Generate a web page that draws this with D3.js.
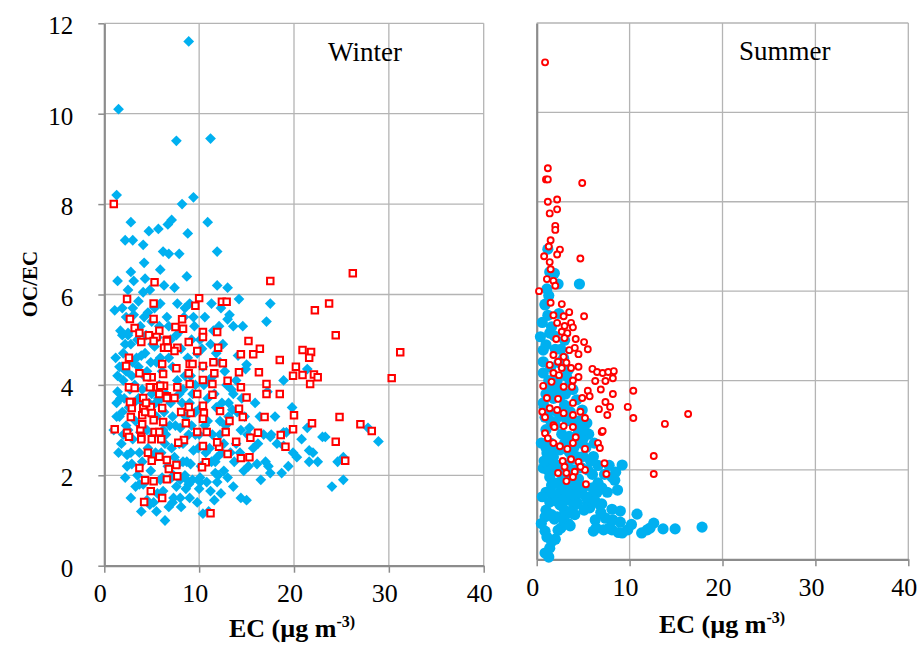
<!DOCTYPE html>
<html>
<head>
<meta charset="utf-8">
<script src="https://cdn.jsdelivr.net/npm/d3@7/dist/d3.min.js"></script>
<style>
  body { margin: 0; background: #fff; }
  text { font-family: "Liberation Serif", "Times New Roman", serif; }
</style>
</head>
<body>
<svg id="chart" width="918" height="645"></svg>
<script>
// [EC, OC/EC] pairs
const winterBlue = [
  [8.9,11.6],[1.5,10.1],[7.6,9.4],[11.2,9.45],[1.3,8.2],[9.4,8.15],[8.2,8.0],
  [2.8,7.6],[2.2,7.2],[3.0,7.2],[4.1,7.1],[4.7,7.4],[5.7,7.45],[6.7,7.55],[7.1,7.65],[8.8,7.35],[10.9,7.6],
  [6.2,6.95],[6.8,6.9],[7.9,6.9],[11.9,6.95],[4.2,6.7],[2.8,6.5],[3.1,6.3],[4.3,6.35],[5.9,6.55],[6.3,6.2],[7.4,6.15],
  [8.7,6.4],[2.5,6.1],[4.1,6.05],[4.8,6.1],[11.9,6.2],[13.0,6.15],[1.4,6.3],
  [14.2,5.9],[17.5,5.8],[11.3,5.8],[1.1,5.65],[1.9,5.7],[3.6,5.85],[3.0,5.7],[5.9,5.8],[7.7,5.8],[8.5,5.7],[6.6,5.5],
  [9.4,5.5],[13.2,5.55],[13.6,5.3],[14.6,5.3],[17.1,5.4],[11.5,5.2],[2.5,5.15],
  [2.0,4.7],[3.9,4.65],[5.3,4.85],[14.1,4.65],[15.0,4.45],[18.9,4.1],[21.4,4.35],[17.2,3.85],[13.1,3.6],[13.6,3.8],
  [1.7,3.7],[1.3,3.3],[2.5,3.0],[12.2,3.2],[15.3,3.05],[17.6,2.9],[18.9,2.95],[21.4,3.05],[23.0,2.85],[13.5,3.45],
  [2.4,2.45],[2.9,2.25],[2.2,1.95],[3.7,1.8],[5.2,1.4],[6.4,1.0],[7.2,1.4],[8.0,1.5],[6.2,1.65],[7.6,1.75],[9.8,1.4],
  [10.4,1.15],[8.9,1.8],[10.1,1.85],[11.2,1.65],[11.9,1.85],[13.6,1.75],[15.0,1.45],[13.0,1.95],[11.7,2.05],[10.1,1.95],
  [8.7,1.9],[9.1,2.25],[8.3,2.3],[11.7,2.3],[12.4,2.5],[14.3,2.5],[15.2,2.2],[17.3,2.2],[17.5,2.05],[18.7,2.05],
  [19.4,2.2],[20.3,2.4],[21.6,2.55],[21.6,2.3],[23.3,2.85],[18.9,2.65],[17.5,2.85],[1.5,2.5],[2.4,2.2],[3.3,1.75],
  [4.5,1.45],[5.9,1.9],[7.1,1.95],[8.0,1.9],[10.8,1.85],
  [25.2,1.9],[24.0,1.75],[27.8,3.05],[28.9,2.75],[25.2,2.4],[24.6,2.3],[22.0,2.5],[22.5,2.3],[17.0,2.3],
  [1.0,3.0],[1.3,3.6],[2.0,4.1],[2.6,3.5],[3.0,2.8],[3.6,4.4],[4.0,3.9],[4.5,3.0],[4.9,4.5],[5.2,2.9],[5.7,3.7],
  [6.3,3.4],[6.6,4.9],[7.2,4.4],[7.5,3.1],[7.9,2.7],[8.3,3.9],[8.9,2.9],[9.1,4.2],[9.6,3.4],[10.0,2.9],[10.4,4.4],
  [10.9,3.7],[11.5,4.2],[11.9,2.4],[12.4,3.6],[1.7,5.2],[2.3,5.5],[3.8,5.3],[4.6,5.6],[5.1,4.9],[6.8,5.3],[7.6,5.1],
  [8.1,4.8],[9.5,5.3],[10.6,5.5],[2.7,3.9],[3.2,4.0],[4.3,4.7],[5.9,4.6],[6.5,3.8],[7.4,2.4],[8.7,2.3],[9.9,2.6],
  [10.6,3.1],[11.4,2.9],[12.9,4.0],[3.7,2.5],[4.9,2.1],[5.4,3.6],[6.9,3.1],[8.2,3.6],[9.0,3.6],[2.0,2.9],[3.1,3.6],
  [4.2,4.2],[5.0,3.8],[6.0,2.5],[6.7,2.2],[7.3,2.0],[8.6,1.7],[9.3,1.9],[10.0,1.7],[11.3,2.3],[12.0,2.0],[13.7,2.3],
  [14.0,3.4],[15.1,2.9],[15.9,3.6],[16.8,2.9],[18.2,2.7],[1.6,4.4],[2.2,4.9],[3.4,4.6],[6.1,4.3],[8.8,4.6],[9.8,4.7],
  [12.7,4.3],[14.9,4.35],[10.5,4.0],[13.4,3.9],[1.4,3.85],[2.1,3.7],[4.1,3.6],[7.0,3.6],[9.3,3.8],[11.8,3.5],[14.5,3.7],
  [1.6,3.3],[3.3,3.2],[5.5,3.3],[8.6,3.3],[10.9,3.2],[13.1,3.3],[16.4,3.3],[3.8,2.95],[6.2,3.0],[8.0,3.05],[12.2,2.9],
  [14.4,3.0],[19.2,2.95],[4.6,2.6],[6.4,2.7],[9.4,2.55],[11.1,2.6],[13.3,2.5],[15.7,2.6],[5.1,2.35],[7.8,2.25],[10.2,2.2],
  [12.6,2.1],[14.7,2.1],[16.1,2.25],[3.5,2.0],[6.1,1.95],[8.5,2.0],[4.1,1.8],[5.6,1.6],[7.3,1.5],[11.6,1.45],[14.4,1.5],
  [4.8,1.35],[6.8,1.3],[8.1,1.3],[11.0,1.2],[1.8,4.4],[2.9,4.2],[5.8,4.0],[7.7,4.1],[12.1,5.3],[2.5,5.1],[4.4,5.1],
  [5.6,5.05],[10.1,5.0],[11.2,4.9],[3.1,5.55],[5.3,5.7],[9.0,5.8],[12.3,5.7],[8.4,5.5],[13.0,5.45],
  [1.2,4.6],[1.9,5.1],[2.8,4.9],[3.5,5.0],[4.2,5.5],[5.0,5.4],[5.8,5.3],[7.0,5.0],[8.0,5.2],[9.2,5.0],[10.3,4.8],
  [11.8,4.7],[12.5,4.9],[1.4,4.2],[2.3,4.3],[3.0,4.5],[4.5,4.3],[5.5,4.5],[6.8,4.6],[8.5,4.2],[9.6,4.0],[11.0,4.1],
  [12.2,4.5],[13.9,4.1],[1.9,3.4],[2.3,3.1],[3.6,3.7],[4.7,3.6],[6.0,3.7],[7.2,3.3],[7.9,3.8],[9.2,3.1],[10.2,3.5],
  [11.6,3.8],[12.8,3.1],[14.8,3.3],[16.2,2.7],[1.8,2.7],[2.8,2.5],[4.0,2.3],[5.4,2.5],[6.5,2.9],[7.1,2.6],[8.3,2.7],
  [9.6,2.9],[10.7,2.5],[12.6,2.7],[13.9,2.7],[2.8,1.5],[3.9,1.2],[5.5,1.2],[9.0,1.5],[12.3,1.6],[16.5,1.9],[19.9,2.5],
  [20.8,2.8],[19.8,3.5],[18.0,3.3]
];

const winterRed = [
  [1.0,8.0],[5.3,6.27],[17.5,6.3],[26.2,6.47],[23.7,5.8],[22.2,5.65],[2.4,5.9],[10.0,5.92],[9.6,5.75],[5.2,5.8],
  [12.4,5.84],[12.9,5.84],[2.7,5.46],[5.2,5.46],[8.2,5.45],[3.2,5.26],[3.7,5.15],[4.7,5.1],[5.8,5.2],[7.5,5.28],
  [8.3,5.24],[10.4,5.17],[10.4,5.06],[11.9,5.17],[3.9,4.95],[6.6,5.0],[8.9,4.95],[15.2,4.97],[24.4,5.1],[31.2,4.72],
  [30.3,4.15],[20.9,4.77],[21.8,4.73],[21.6,4.6],[18.5,4.55],[20.2,4.4],[19.9,4.2],[20.9,4.22],[22.1,4.23],[22.5,4.17],
  [21.7,4.02],[16.4,4.8],[15.7,4.68],[16.3,4.28],[17.1,4.02],[17.1,3.8],[18.5,3.8],[15.0,3.72],[14.2,3.47],[14.6,3.29],
  [16.9,3.29],[20.0,3.33],[21.9,3.15],[24.8,3.29],[27.0,3.13],[28.2,2.98],[19.9,3.02],[18.6,2.89],[19.1,2.63],[24.4,2.74],
  [25.4,2.32],[16.2,2.94],[15.4,2.83],[13.9,2.74],[14.4,2.38],[15.3,2.4],[13.0,2.47],[12.1,2.63],[10.7,2.29],[10.3,2.18],
  [11.2,1.16],[7.7,1.98],[6.6,1.91],[6.1,1.5],[4.2,1.41],[4.9,1.65],[4.3,1.89],[5.2,1.87],[3.7,2.16],[6.8,2.14],
  [7.6,2.23],[6.6,2.34],[5.0,2.32],[4.6,2.5],[5.8,2.41],[11.9,2.73],[10.4,2.65],[8.4,2.78],[7.8,2.72],[9.8,2.96],
  [10.8,2.96],[12.8,2.96],[13.2,3.2],[12.2,3.42],[10.4,3.54],[10.5,3.38],[10.4,3.25],[9.1,3.38],[8.6,3.15],[8.1,3.4],
  [8.9,3.51],[9.8,3.8],[11.4,3.78],[13.0,4.09],[14.4,3.95],[14.2,4.28],[14.4,4.68],[11.5,4.5],[12.5,4.48],[11.6,4.26],
  [10.4,4.42],[10.4,4.11],[11.4,4.02],[12.0,4.82],[9.8,4.75],[9.0,4.46],[8.9,4.26],[9.0,4.02],[7.6,4.37],[7.7,3.95],
  [6.1,4.46],[6.2,4.24],[6.3,3.98],[6.6,3.75],[5.8,3.8],[4.8,3.95],[5.0,4.17],[4.5,4.17],[3.7,4.26],[2.6,4.6],
  [2.3,4.42],[2.6,3.95],[3.2,3.93],[2.9,3.62],[2.9,3.49],[2.8,3.29],[1.1,3.02],[2.4,2.94],[2.6,2.85],[3.8,3.02],
  [3.9,2.85],[3.9,2.8],[4.1,3.49],[4.0,3.33],[4.0,3.13],[4.3,3.4],[4.9,3.51],[5.0,3.38],[5.2,3.22],[5.3,2.96],
  [5.0,2.8],[6.0,2.8],[5.8,2.96],[6.2,3.18],[6.1,3.49],[6.6,3.71],[7.4,3.71],[5.5,5.06],[5.2,4.97],[6.6,4.97],
  [7.7,4.82],[7.4,4.75],[6.3,4.82],[6.7,4.82],[9.3,4.46],[5.6,3.95],[5.9,3.98],[4.1,3.71],[4.4,3.6],[2.7,3.62]
];

const summerBlue = [
  [17.8,0.72],[14.9,0.68],[13.6,0.68],[12.6,0.81],[11.9,0.66],[11.3,0.59],[10.8,1.01],[9.8,0.66],[9.2,0.59],[8.1,0.66],
  [7.2,0.66],[6.1,0.63],[6.3,0.88],[7.4,0.92],[8.2,0.88],[9.0,0.83],[8.1,1.12],[9.0,1.08],[7.0,1.24],[5.7,1.15],
  [5.5,1.26],[0.9,0.63],[2.0,0.45],[1.4,0.25],[0.9,0.14],[1.3,0.05],[0.9,0.95],[1.0,1.1],[2.2,0.95],[2.9,0.88],
  [3.6,1.04],[2.5,1.22],[1.4,1.28],[3.4,1.33],[2.0,1.44],[3.0,1.51],[4.7,1.51],[5.0,1.6],[4.3,1.44],[1.6,1.66],
  [1.4,1.84],[2.5,1.73],[3.6,1.71],[8.4,1.77],[8.7,1.55],[8.1,1.84],[9.2,2.11],[6.6,1.71],[6.8,1.22],[0.7,2.04],
  [1.4,2.22],[1.1,2.38],[1.8,2.29],[2.0,2.5],[2.5,2.1],[3.0,1.9],[3.5,2.4],[4.0,2.0],[4.5,1.8],[5.0,2.3],
  [5.5,2.0],[6.0,1.9],[3.2,1.6],[2.2,1.3],[1.6,1.0],[4.0,1.2],[3.0,1.1],
  [0.4,4.98],[1.4,5.06],[0.9,5.69],[1.2,5.46],[0.7,4.68],[0.7,4.42],[0.7,4.17],[1.2,3.86],[0.7,3.5],[0.9,3.18],
  [2.9,4.5],[3.4,4.24],[3.6,3.95],[4.3,3.57],[4.9,3.34],[5.4,3.05],[2.5,3.63],[3.9,3.12],
  [1.2,6.94],[1.4,6.43],[1.1,6.05],[2.3,6.16],[4.6,6.16],[0.9,5.71],
  [0.5,2.6],[0.8,3.4],[1.0,2.9],[1.5,3.1],[1.8,3.6],[2.2,3.3],[2.7,2.8],[3.3,3.1],[1.3,4.0],[2.0,4.7],
  [1.6,5.2],[2.4,5.5],[3.0,4.9],[2.6,3.8],[4.1,2.7],[4.8,2.6],[5.6,2.8],[6.1,2.3],[6.6,2.1],[7.0,1.6],
  [7.6,1.5],[5.8,1.4],[5.1,1.1],[2.6,0.7],[3.4,0.8],[8.8,0.6],
  [1.0,1.5],[1.5,1.5],[2.0,1.7],[2.5,1.5],[3.0,1.35],[3.5,1.5],[4.0,1.6],[4.5,1.6],[1.2,2.0],[1.7,2.0],
  [2.2,2.1],[2.8,1.95],[3.3,2.1],[3.8,2.25],[4.3,2.3],[4.8,2.05],[5.3,2.5],[5.8,2.2],[1.0,2.5],[1.5,2.6],
  [2.5,2.45],[3.0,2.6],[3.5,2.75],[4.0,2.5],[4.5,2.85],[5.0,2.7],[6.2,2.6],[1.3,3.3],[2.0,3.0],[2.5,3.2],
  [3.0,3.45],[3.6,3.3],[4.2,3.0],[4.6,3.1],[5.1,2.9],[1.0,3.7],[1.7,3.8],[2.2,4.0],[3.1,3.7],[3.9,3.8],
  [1.5,4.3],[2.4,4.4],[3.2,4.1],[0.6,5.3],[1.0,4.8],[1.9,5.0],[2.6,4.7],[1.3,5.9],[1.9,6.4],[0.8,2.2],
  [0.6,1.4],[0.5,0.8],[1.9,0.9],[2.3,0.65],[3.6,0.75],[4.1,1.0],[6.0,1.6],[6.5,1.5],[7.3,1.9],[7.8,2.1],
  [8.5,1.95],[6.4,0.7],[6.9,1.05],[7.8,0.7],[10.2,0.78],[12.2,0.7],[1.6,0.4],[1.1,0.5],[4.4,1.25],[5.3,1.4],
  [6.3,1.3],[2.7,1.2],[3.8,1.45]
];

const summerRed = [
  [0.9,11.12],[1.2,8.75],[1.0,8.5],[1.2,8.5],[4.9,8.42],[1.2,8.0],[2.2,8.05],[2.2,7.83],[1.4,7.74],[2.0,7.46],
  [2.0,7.37],[1.5,7.14],[1.3,7.0],[2.5,6.93],[2.2,6.82],[0.8,6.78],[4.7,6.73],[1.4,6.65],[1.5,6.49],[1.1,6.27],
  [1.8,6.23],[2.0,6.12],[0.25,6.0],
  [1.5,5.74],[2.7,5.71],[3.5,5.53],[1.8,5.46],[2.9,5.44],[5.1,5.44],[2.2,5.29],[3.7,5.29],[3.0,5.22],[3.9,5.19],
  [2.7,5.09],[3.3,5.06],[2.1,4.93],[3.0,4.95],[4.2,4.93],[5.1,4.86],[5.5,4.7],[4.1,4.73],[3.5,4.68],[4.5,4.59],
  [2.9,4.53],[1.8,4.57],[2.3,4.42],[3.2,4.4],[1.4,4.35],[2.7,4.28],[4.5,4.31],[3.7,4.28],[6.0,4.26],[6.5,4.19],
  [7.1,4.17],[7.7,4.19],[8.3,4.21],[1.8,4.17],[2.4,4.12],[4.5,4.08],[6.3,3.99],[7.4,3.99],[8.2,4.05],[3.9,4.0],
  [0.7,3.88],[1.6,3.97],[2.9,3.86],[3.8,3.86],[5.5,3.77],[6.9,3.8],[10.4,3.77],[8.2,3.7],[5.7,3.65],[4.9,3.61],
  [1.1,3.61],[2.3,3.59],[3.9,3.5],[7.4,3.52],[7.9,3.41],[9.8,3.41],[6.7,3.36],[7.6,3.23],[0.6,3.3],[1.4,3.38],
  [0.9,3.18],[2.2,3.34],[2.9,3.27],[3.9,3.23],[4.7,3.3],[5.2,3.16],[10.4,3.16],[16.3,3.25],[13.8,3.03],[1.8,3.0],
  [7.0,2.85],[6.6,2.6],[6.8,2.49],[5.2,2.47],[12.6,2.31],[7.3,2.15],[7.5,1.91],[12.6,1.91],[5.3,1.68],[2.8,2.2],
  [3.7,2.24],[4.5,2.18],[5.2,2.0],[2.3,1.93],[3.2,1.93],[4.1,1.96],[3.2,1.75],[3.9,1.84],[4.7,2.07],[3.0,2.07],
  [0.9,2.82],[1.2,2.71],[1.8,2.6],[2.5,2.53],[3.3,2.47],[3.9,2.6],[4.2,2.73],[3.9,2.96],[2.9,2.98],[1.9,2.96],[7.1,2.87]
];

const xTicks = [0, 10, 20, 30, 40];
const yTicks = [0, 2, 4, 6, 8, 10, 12];
const seasonNames = ['Winter', 'Summer'];

const BLUE = '#00b0f0', RED = '#ff0000';
const GRID = '#b4b4b4', AXIS = '#8c8c8c';

const svg = d3.select('#chart');

const panels = [
  { name: seasonNames[0], left: 104.3, right: 483.7, top: 23.3, bottom: 565.7, yLabels: true,
    titleX: 328, titleY: 61, axisTitleX: 292, axisTitleY: 637,
    blue: winterBlue, red: winterRed, shape: 'square' },
  { name: seasonNames[1], left: 536.7, right: 908.3, top: 23, bottom: 559.3, yLabels: false,
    titleX: 739, titleY: 60, axisTitleX: 722, axisTitleY: 633,
    blue: summerBlue, red: summerRed, shape: 'circle' }
];

panels.forEach(p => {
  const x = d3.scaleLinear().domain([0, 40]).range([p.left, p.right]);
  const y = d3.scaleLinear().domain([0, 12]).range([p.bottom, p.top]);
  const g = svg.append('g');

  // gridlines
  g.selectAll('.vgrid').data(xTicks.slice(1)).enter().append('line')
    .attr('x1', d => x(d)).attr('x2', d => x(d))
    .attr('y1', y(12)).attr('y2', y(0))
    .attr('stroke', GRID).attr('stroke-width', 1.3);
  g.selectAll('.hgrid').data(yTicks.slice(1)).enter().append('line')
    .attr('x1', x(0)).attr('x2', x(40))
    .attr('y1', d => y(d)).attr('y2', d => y(d))
    .attr('stroke', GRID).attr('stroke-width', 1.3);

  // x axis
  g.append('g')
    .attr('transform', `translate(0,${p.bottom})`)
    .call(d3.axisBottom(x).tickValues(xTicks).tickSizeInner(7).tickSizeOuter(0).tickPadding(11))
    .attr('font-family', '"Liberation Serif", serif').attr('font-size', 26)
    .call(a => a.select('.domain').attr('stroke', AXIS).attr('stroke-width', 2.2))
    .call(a => a.selectAll('.tick line').attr('stroke', AXIS).attr('stroke-width', 1.5))
    .call(a => a.selectAll('.tick text').attr('fill', '#000').attr('dx', -4.5));

  // y axis
  const yAxis = d3.axisLeft(y).tickValues(yTicks).tickSizeOuter(0);
  if (p.yLabels) yAxis.tickSizeInner(6).tickPadding(25);
  else yAxis.tickSizeInner(0).tickFormat('');
  g.append('g')
    .attr('transform', `translate(${p.left},0)`)
    .call(yAxis)
    .attr('font-family', '"Liberation Serif", serif').attr('font-size', 25)
    .call(a => a.select('.domain').attr('stroke', AXIS).attr('stroke-width', 2.2))
    .call(a => a.selectAll('.tick line').attr('stroke', AXIS).attr('stroke-width', 1.5))
    .call(a => a.selectAll('.tick text').attr('fill', '#000').attr('dy', '0.42em'));

  // points
  if (p.shape === 'square') {
    g.selectAll('.blue').data(p.blue).enter().append('path')
      .attr('d', d3.symbol().type(d3.symbolSquare).size(58))
      .attr('transform', d => `translate(${x(d[0])},${y(d[1])}) rotate(45)`)
      .attr('fill', BLUE);
    g.selectAll('.red').data(p.red).enter().append('path')
      .attr('d', d3.symbol().type(d3.symbolSquare).size(42))
      .attr('transform', d => `translate(${x(d[0])},${y(d[1])})`)
      .attr('fill', '#fff').attr('stroke', RED).attr('stroke-width', 2);
  } else {
    g.selectAll('.blue').data(p.blue).enter().append('circle')
      .attr('cx', d => x(d[0])).attr('cy', d => y(d[1])).attr('r', 5.6)
      .attr('fill', BLUE);
    g.selectAll('.red').data(p.red).enter().append('circle')
      .attr('cx', d => x(d[0])).attr('cy', d => y(d[1])).attr('r', 3)
      .attr('fill', '#fff').attr('stroke', RED).attr('stroke-width', 1.9);
  }

  // season title
  g.append('text').attr('x', p.titleX).attr('y', p.titleY)
    .attr('font-size', 27).text(p.name);

  // x axis title
  const t = g.append('text').attr('x', p.axisTitleX).attr('y', p.axisTitleY)
    .attr('text-anchor', 'middle').attr('font-size', 26).attr('font-weight', 'bold');
  t.append('tspan').text('EC (µg m');
  t.append('tspan').attr('font-size', 16).attr('dy', -10).text('-3)');
});

// y axis title
svg.append('text')
  .attr('transform', 'translate(37,284) rotate(-90)')
  .attr('text-anchor', 'middle')
  .attr('font-size', 21).attr('font-weight', 'bold')
  .text('OC/EC');
</script>
</body>
</html>
